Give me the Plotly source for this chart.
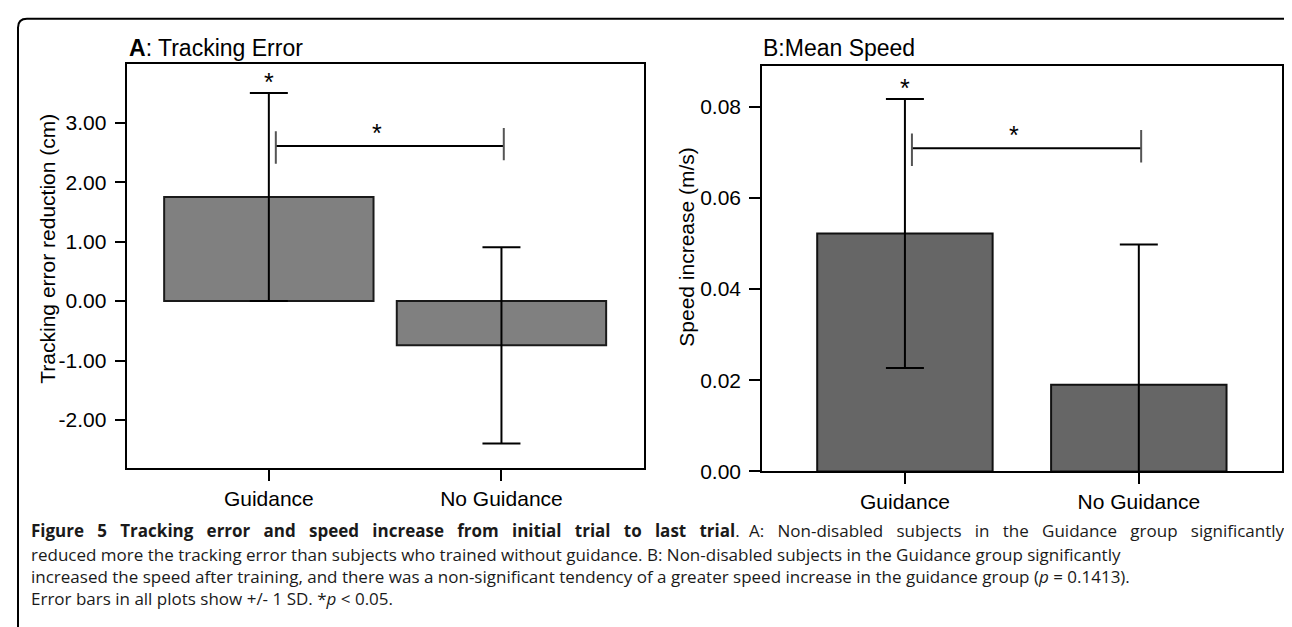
import plotly.graph_objs as go

W, H = 1292, 627

categories = ["Guidance", "No Guidance"]

# panel A: tracking error reduction (cm)
err_mean = [1.75, -0.745]
err_sd = [1.75, 1.65]
err_ticks = [-2, -1, 0, 1, 2, 3]
err_ticktext = ["-2.00", "-1.00", "0.00", "1.00", "2.00", "3.00"]

# panel B: speed increase (m/s)
speed_mean = [0.0522, 0.0190]
speed_sd = [0.0295, 0.0308]
speed_ticks = [0.0, 0.02, 0.04, 0.06, 0.08]
speed_ticktext = ["0.00", "0.02", "0.04", "0.06", "0.08"]

caption_head = "Figure 5 Tracking error and speed increase from initial trial to last trial"
caption_head_rest = "A: Non-disabled subjects in the Guidance group significantly"
caption_lines = [
    "reduced more the tracking error than subjects who trained without guidance. "
    "B: Non-disabled subjects in the Guidance group significantly",
    "increased the speed after training, and there was a non-significant tendency of a "
    "greater speed increase in the guidance group (<i>p</i> = 0.1413).",
    "Error bars in all plots show +/- 1 SD. *<i>p</i> &lt; 0.05.",
]


def px(x):
    return x / W


def py(y):
    return 1 - y / H


def stretched(s):
    # the first caption line is justified: widen the word gaps
    return " &nbsp;&nbsp;".join(s.split(" "))


CHART_FONT = "Liberation Sans, Arial, sans-serif"
CAP_FONT = dict(family="Open Sans, sans-serif", size=17, color="#1a1a1a")

fig = go.Figure()

fig.add_trace(go.Bar(x=categories, y=err_mean, width=0.9,
                     marker=dict(color="#808080", line=dict(color="#1a1a1a", width=2)),
                     error_y=dict(type="data", array=err_sd, color="black", thickness=2, width=19),
                     xaxis="x", yaxis="y", hoverinfo="none"))
fig.add_trace(go.Bar(x=categories, y=speed_mean, width=0.75,
                     marker=dict(color="#666666", line=dict(color="#111111", width=2)),
                     error_y=dict(type="data", array=speed_sd, color="black", thickness=2, width=19),
                     xaxis="x2", yaxis="y2", hoverinfo="none"))

axis_common = dict(showline=True, mirror=True, linecolor="black", linewidth=1.5,
                   ticks="outside", ticklen=11, tickwidth=1.5, tickcolor="black",
                   showgrid=False, zeroline=False,
                   tickfont=dict(family=CHART_FONT, size=21, color="black"))

fig.update_layout(
    width=W, height=H,
    margin=dict(l=0, r=0, t=0, b=0),
    paper_bgcolor="white", plot_bgcolor="white",
    showlegend=False,
    font=dict(family=CHART_FONT, color="black"),
    xaxis=dict(axis_common, domain=[px(119.4), px(635.6)], range=[-0.608, 1.611], anchor="y"),
    yaxis=dict(axis_common, domain=[py(468), py(57)], range=[-2.804, 3.987], anchor="x",
               tickvals=err_ticks, ticktext=err_ticktext, ticklabelstandoff=4),
    xaxis2=dict(axis_common, domain=[px(754), px(1273.5)], range=[-0.611, 1.61], anchor="y2"),
    yaxis2=dict(axis_common, domain=[py(471.7), py(59.3)], range=[0, 0.0889], anchor="x2",
                tickvals=speed_ticks, ticktext=speed_ticktext, ticklabelstandoff=4),
)

ann = []
# panel titles
ann.append(dict(text="<b>A</b>: Tracking Error", x=px(119), y=py(41), xref="paper", yref="paper",
                xanchor="left", yanchor="middle", showarrow=False, font=dict(size=23)))
ann.append(dict(text="B:Mean Speed", x=px(753), y=py(41), xref="paper", yref="paper",
                xanchor="left", yanchor="middle", showarrow=False, font=dict(size=23)))
# axis titles
ann.append(dict(text="Tracking error reduction (cm)", x=px(40), y=py(245), xref="paper", yref="paper",
                xanchor="center", yanchor="middle", textangle=-90, showarrow=False,
                font=dict(size=21)))
ann.append(dict(text="Speed increase (m/s)", x=px(679), y=py(243), xref="paper", yref="paper",
                xanchor="center", yanchor="middle", textangle=-90, showarrow=False,
                font=dict(size=21)))


# significance marks
def brackets(xa, ya, mean, sd, ybar, tick_half, yunit):
    top = mean[0] + sd[0]
    ann.append(dict(text="*", x=0, y=top, xref=xa, yref=ya, yanchor="bottom", yshift=-5,
                    showarrow=False, font=dict(size=25)))
    x0, x1 = 0.03, 1.01
    fig.add_shape(type="line", xref=xa, yref=ya, x0=x0, x1=x1, y0=ybar, y1=ybar,
                  line=dict(color="black", width=2))
    for xx, off in ((x0, -1.5), (x1, 2)):
        fig.add_shape(type="line", xref=xa, yref=ya, x0=xx, x1=xx,
                      y0=ybar + (off - tick_half) * yunit, y1=ybar + (off + tick_half) * yunit,
                      line=dict(color="#555555", width=2))
    ann.append(dict(text="*", x=0.465, y=ybar, xref=xa, yref=ya, yanchor="bottom", yshift=-3,
                    showarrow=False, font=dict(size=25)))


brackets("x", "y", err_mean, err_sd, 2.607, 16.5, 1 / 60.52)
brackets("x2", "y2", speed_mean, speed_sd, 0.0709, 16.5, 1 / 4637.5)

# caption
ann.append(dict(text="<b>" + stretched(caption_head) + "</b>.", x=px(21), y=py(532),
                xref="paper", yref="paper", xanchor="left", yanchor="middle",
                showarrow=False, font=CAP_FONT))
ann.append(dict(text=stretched(caption_head_rest), x=px(1279), y=py(532),
                xref="paper", yref="paper", xanchor="right", yanchor="middle",
                showarrow=False, font=CAP_FONT))
for line, yy in zip(caption_lines, [556, 579, 601]):
    ann.append(dict(text=line, x=px(21), y=py(yy), xref="paper", yref="paper",
                    xanchor="left", yanchor="middle", showarrow=False, font=CAP_FONT))

fig.update_layout(annotations=ann)

# rounded outer frame
r = 9
x0, y0, x1, y1 = 10, 11, 1290, 700
path = (f"M {px(x0)},{py(y1)} L {px(x0)},{py(y0 + r)} Q {px(x0)},{py(y0)} {px(x0 + r)},{py(y0)} "
        f"L {px(x1 - r)},{py(y0)} Q {px(x1)},{py(y0)} {px(x1)},{py(y0 + r)} L {px(x1)},{py(y1)}")
fig.add_shape(type="path", xref="paper", yref="paper", path=path,
              line=dict(color="black", width=2))

fig.write_html("out.html")
